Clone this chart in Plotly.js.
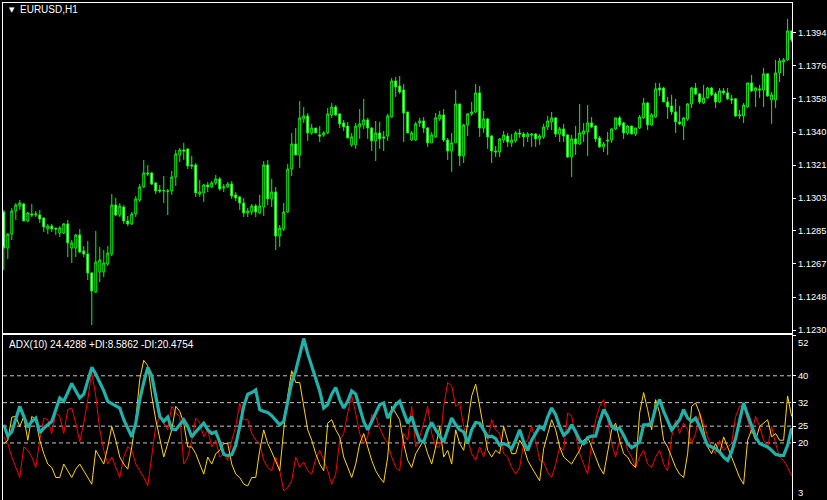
<!DOCTYPE html>
<html>
<head>
<meta charset="utf-8">
<script src="https://cdn.plot.ly/plotly-3.0.1.min.js"></script>
<style>html,body{margin:0;padding:0;background:#000;}#chart{width:827px;height:500px;}</style>
</head>
<body>
<div id="chart"></div>
<script>
// EURUSD H1 candles
const opens = [1.12952,1.12753,1.12830,1.12957,1.12985,1.12996,1.12902,1.12941,1.12935,1.12935,
1.12919,1.12858,1.12874,1.12863,1.12836,1.12836,1.12886,1.12753,1.12753,1.12825,
1.12736,1.12720,1.12615,1.12510,1.12621,1.12621,1.12665,1.12720,1.12990,1.12935,
1.12979,1.12902,1.12886,1.12941,1.13018,1.13090,1.13167,1.13167,1.13112,1.13073,
1.13068,1.13068,1.13068,1.13145,1.13266,1.13294,1.13300,1.13211,1.13211,1.13051,
1.13057,1.13101,1.13090,1.13112,1.13134,1.13084,1.13090,1.13106,1.13046,1.13035,
1.13001,1.12946,1.12952,1.12985,1.12946,1.12979,1.13211,1.13024,1.13062,1.12819,
1.12858,1.12952,1.13189,1.13327,1.13266,1.13465,1.13482,1.13388,1.13415,1.13377,
1.13377,1.13388,1.13487,1.13531,1.13493,1.13443,1.13426,1.13322,1.13322,1.13421,
1.13432,1.13460,1.13415,1.13344,1.13388,1.13366,1.13371,1.13476,1.13675,1.13647,
1.13625,1.13504,1.13349,1.13349,1.13443,1.13454,1.13415,1.13333,1.13366,1.13465,
1.13487,1.13349,1.13288,1.13333,1.13548,1.13261,1.13432,1.13493,1.13504,1.13609,
1.13415,1.13465,1.13371,1.13288,1.13283,1.13349,1.13371,1.13333,1.13344,1.13388,
1.13382,1.13366,1.13382,1.13382,1.13355,1.13366,1.13421,1.13449,1.13471,1.13382,
1.13410,1.13377,1.13255,1.13355,1.13327,1.13382,1.13393,1.13443,1.13426,1.13360,
1.13311,1.13349,1.13349,1.13410,1.13471,1.13443,1.13388,1.13426,1.13382,1.13415,
1.13471,1.13553,1.13432,1.13476,1.13636,1.13636,1.13559,1.13537,1.13504,1.13449,
1.13426,1.13465,1.13548,1.13636,1.13603,1.13553,1.13581,1.13636,1.13603,1.13559,
1.13620,1.13609,1.13576,1.13576,1.13482,1.13482,1.13531,1.13664,1.13620,1.13631,
1.13625,1.13714,1.13570,1.13570,1.13719,1.13780,1.13791,1.13951];
const highs = [1.12963,1.12836,1.12974,1.13001,1.13018,1.13001,1.12952,1.12996,1.12957,1.12963,
1.12919,1.12886,1.12886,1.12863,1.12874,1.12891,1.12908,1.12797,1.12830,1.12858,
1.12764,1.12792,1.12621,1.12847,1.12759,1.12742,1.12764,1.13051,1.13029,1.13001,
1.12990,1.12930,1.12952,1.13040,1.13106,1.13239,1.13211,1.13173,1.13117,1.13101,
1.13150,1.13079,1.13178,1.13294,1.13305,1.13333,1.13300,1.13261,1.13222,1.13128,
1.13106,1.13117,1.13123,1.13156,1.13145,1.13106,1.13117,1.13123,1.13062,1.13040,
1.13029,1.12974,1.12996,1.12996,1.13046,1.13233,1.13239,1.13134,1.13090,1.12880,
1.13001,1.13217,1.13388,1.13415,1.13564,1.13531,1.13498,1.13438,1.13415,1.13426,
1.13399,1.13526,1.13553,1.13542,1.13498,1.13460,1.13449,1.13388,1.13443,1.13520,
1.13576,1.13471,1.13421,1.13454,1.13449,1.13399,1.13493,1.13691,1.13697,1.13702,
1.13658,1.13504,1.13399,1.13449,1.13471,1.13476,1.13421,1.13393,1.13498,1.13509,
1.13520,1.13360,1.13388,1.13625,1.13548,1.13438,1.13498,1.13559,1.13658,1.13647,
1.13509,1.13471,1.13377,1.13316,1.13360,1.13399,1.13388,1.13382,1.13399,1.13410,
1.13393,1.13393,1.13388,1.13388,1.13382,1.13438,1.13482,1.13504,1.13476,1.13421,
1.13438,1.13382,1.13377,1.13426,1.13548,1.13443,1.13542,1.13476,1.13432,1.13371,
1.13338,1.13393,1.13415,1.13471,1.13482,1.13449,1.13432,1.13426,1.13415,1.13487,
1.13581,1.13559,1.13498,1.13664,1.13664,1.13642,1.13587,1.13598,1.13576,1.13537,
1.13476,1.13553,1.13642,1.13664,1.13609,1.13653,1.13642,1.13642,1.13614,1.13636,
1.13636,1.13636,1.13598,1.13581,1.13515,1.13553,1.13664,1.13708,1.13642,1.13653,
1.13747,1.13714,1.13614,1.13791,1.13802,1.13802,1.14017,1.13951];
const lows = [1.12632,1.12692,1.12797,1.12908,1.12963,1.12902,1.12897,1.12924,1.12924,1.12891,
1.12841,1.12830,1.12841,1.12825,1.12814,1.12830,1.12703,1.12670,1.12703,1.12725,
1.12703,1.12576,1.12328,1.12505,1.12565,1.12593,1.12654,1.12709,1.12930,1.12924,
1.12886,1.12874,1.12880,1.12924,1.13007,1.13084,1.13150,1.13101,1.13051,1.13057,
1.13001,1.12935,1.13046,1.13095,1.13228,1.13239,1.13189,1.13189,1.13035,1.13035,
1.13007,1.13062,1.13084,1.13101,1.13068,1.13062,1.13084,1.13024,1.13012,1.12963,
1.12924,1.12924,1.12935,1.12924,1.12941,1.12930,1.12990,1.12979,1.12742,1.12759,
1.12847,1.12946,1.13150,1.13266,1.13195,1.13443,1.13344,1.13377,1.13388,1.13338,
1.13366,1.13382,1.13471,1.13482,1.13415,1.13399,1.13360,1.13311,1.13300,1.13355,
1.13410,1.13355,1.13288,1.13233,1.13300,1.13288,1.13344,1.13471,1.13587,1.13603,
1.13338,1.13388,1.13344,1.13344,1.13421,1.13388,1.13311,1.13333,1.13360,1.13454,
1.13338,1.13239,1.13173,1.13333,1.13206,1.13222,1.13371,1.13482,1.13498,1.13366,
1.13388,1.13300,1.13222,1.13255,1.13255,1.13333,1.13311,1.13311,1.13333,1.13360,
1.13311,1.13338,1.13311,1.13311,1.13322,1.13355,1.13404,1.13404,1.13366,1.13338,
1.13338,1.13250,1.13145,1.13266,1.13322,1.13338,1.13261,1.13415,1.13338,1.13305,
1.13283,1.13266,1.13333,1.13404,1.13421,1.13355,1.13377,1.13382,1.13371,1.13410,
1.13465,1.13404,1.13426,1.13471,1.13592,1.13559,1.13465,1.13487,1.13388,1.13432,
1.13349,1.13454,1.13526,1.13598,1.13548,1.13548,1.13576,1.13592,1.13526,1.13553,
1.13598,1.13570,1.13548,1.13476,1.13465,1.13443,1.13526,1.13614,1.13531,1.13581,
1.13531,1.13587,1.13438,1.13526,1.13669,1.13702,1.13785,1.13890];
const closes = [1.12753,1.12830,1.12957,1.12990,1.13001,1.12902,1.12946,1.12935,1.12941,1.12913,
1.12869,1.12874,1.12858,1.12858,1.12863,1.12886,1.12781,1.12781,1.12825,1.12731,
1.12720,1.12615,1.12516,1.12676,1.12687,1.12670,1.12725,1.12990,1.12935,1.12985,
1.12902,1.12886,1.12941,1.13024,1.13090,1.13167,1.13162,1.13106,1.13068,1.13068,
1.13070,1.13066,1.13145,1.13272,1.13294,1.13288,1.13206,1.13206,1.13057,1.13062,
1.13101,1.13090,1.13112,1.13134,1.13079,1.13090,1.13106,1.13040,1.13029,1.13001,
1.12946,1.12957,1.12985,1.12952,1.12985,1.13211,1.13024,1.13062,1.12819,1.12863,
1.12952,1.13189,1.13327,1.13266,1.13471,1.13482,1.13388,1.13415,1.13388,1.13371,
1.13388,1.13493,1.13531,1.13487,1.13438,1.13421,1.13360,1.13366,1.13426,1.13438,
1.13460,1.13415,1.13344,1.13388,1.13355,1.13360,1.13482,1.13675,1.13642,1.13614,
1.13498,1.13388,1.13388,1.13438,1.13454,1.13415,1.13333,1.13377,1.13471,1.13487,
1.13349,1.13288,1.13333,1.13548,1.13261,1.13432,1.13493,1.13504,1.13609,1.13415,
1.13465,1.13366,1.13288,1.13283,1.13355,1.13377,1.13338,1.13349,1.13388,1.13382,
1.13366,1.13382,1.13377,1.13355,1.13371,1.13421,1.13454,1.13471,1.13382,1.13410,
1.13371,1.13255,1.13355,1.13327,1.13388,1.13399,1.13443,1.13421,1.13355,1.13311,
1.13327,1.13344,1.13410,1.13471,1.13432,1.13388,1.13426,1.13382,1.13415,1.13476,
1.13553,1.13432,1.13487,1.13631,1.13625,1.13559,1.13531,1.13504,1.13449,1.13438,
1.13471,1.13548,1.13636,1.13603,1.13559,1.13581,1.13636,1.13598,1.13559,1.13620,
1.13609,1.13576,1.13570,1.13482,1.13487,1.13542,1.13664,1.13620,1.13636,1.13625,
1.13714,1.13592,1.13598,1.13719,1.13785,1.13791,1.13951,1.13901];

// ADX(10) indicator
const adx = [25.4,22.0,23.3,27.4,30.9,27.9,24.7,26.4,27.4,23.0,
24.4,25.4,26.4,29.9,33.4,32.4,35.0,37.7,35.5,33.4,
34.5,38.5,42.5,40.5,38.0,35.5,32.4,31.7,31.1,30.4,
26.9,24.4,21.8,25.9,32.9,38.0,42.5,40.0,33.4,27.9,
26.4,27.7,24.1,23.9,25.4,26.9,24.9,21.8,23.3,24.7,
25.9,23.9,22.8,23.3,20.3,16.6,16.2,16.5,19.3,24.9,
30.9,34.5,35.0,35.8,29.9,29.4,29.1,28.1,26.7,25.4,
26.4,32.4,38.0,41.5,46.6,51.1,46.6,43.0,39.5,35.5,
30.4,31.4,34.5,36.5,32.9,30.4,32.4,35.5,34.5,30.4,
26.4,23.9,26.4,29.4,31.4,31.9,27.4,29.4,31.4,32.4,
29.4,25.9,27.9,23.9,20.8,20.3,23.9,26.1,23.9,22.0,
20.3,23.9,27.4,25.4,23.9,23.3,19.8,23.9,26.1,25.9,
23.9,21.8,22.0,21.3,19.3,19.8,19.3,18.3,20.8,23.9,
20.3,17.8,20.8,22.8,24.9,24.1,27.7,30.4,28.4,24.9,
22.3,23.3,25.4,23.3,20.8,19.8,21.6,22.0,22.0,26.4,
29.9,27.9,24.9,24.1,24.4,22.3,19.8,18.6,19.3,20.3,
25.4,25.4,25.9,30.4,32.9,29.4,26.4,23.9,25.4,26.9,
29.9,27.4,26.4,27.4,24.9,21.8,19.3,18.8,18.3,17.3,
15.8,14.8,17.3,21.3,26.9,31.9,28.4,25.4,21.8,19.8,
19.3,18.8,17.8,16.6,16.3,16.3,19.3,24.4];
const plusDI = [19.8,20.8,27.7,27.9,24.9,27.9,20.8,27.9,26.9,20.8,
16.8,13.7,12.7,9.7,9.7,13.7,11.7,9.7,12.2,13.7,
11.7,9.7,7.7,17.8,15.8,13.7,18.8,24.9,20.8,15.8,
13.7,12.2,18.8,26.9,39.0,44.6,43.0,34.0,26.9,20.8,
15.8,19.8,23.9,30.9,29.4,25.9,18.8,18.8,16.8,13.7,
10.7,15.8,13.7,16.8,17.8,19.8,19.8,13.7,10.7,9.7,
7.7,7.2,9.7,9.7,17.8,23.9,19.8,17.3,14.3,11.7,
23.9,34.0,41.5,38.0,38.0,30.9,23.9,20.8,16.8,13.7,
11.7,25.9,26.9,23.9,21.8,15.8,12.7,9.7,13.7,19.8,
22.8,18.8,14.8,11.7,9.7,8.2,15.8,30.9,28.9,26.9,
19.8,14.8,12.7,16.8,18.8,20.8,16.8,13.7,18.8,24.9,
15.8,17.8,13.7,23.9,19.8,17.8,25.9,34.0,37.5,30.9,
23.9,17.8,15.8,17.8,16.8,24.9,20.8,16.8,16.8,20.8,
18.8,14.8,12.7,10.7,8.7,18.3,22.8,26.9,23.9,18.8,
15.8,14.8,13.7,15.8,17.8,20.8,21.8,18.8,15.8,12.7,
10.7,17.8,23.9,25.9,20.8,16.8,15.8,13.7,12.7,28.9,
35.0,29.9,23.9,32.9,28.9,20.8,18.8,15.8,12.7,10.7,
9.7,16.8,30.9,31.9,28.9,23.9,18.8,16.8,19.8,16.8,
21.8,18.8,15.8,12.7,9.7,7.7,20.8,23.9,20.8,24.9,
25.9,26.9,21.8,22.8,20.8,20.8,34.0,27.9];
const minusDI = [21.8,19.8,15.8,12.7,9.7,18.8,17.8,15.8,12.7,20.8,
27.4,26.9,22.8,28.9,27.9,22.8,29.9,30.4,25.9,20.3,
25.9,32.9,41.0,34.0,23.9,17.8,13.7,15.8,12.7,9.7,
15.8,18.8,17.8,13.7,11.7,9.7,7.2,15.8,24.9,27.9,
25.9,23.9,30.9,28.9,27.9,13.7,15.8,20.8,27.4,25.9,
21.8,23.9,18.8,20.8,15.8,16.8,14.8,20.8,24.9,31.9,
26.9,26.9,22.8,20.8,19.8,14.8,12.7,11.7,15.8,11.7,
5.7,6.7,8.7,15.8,12.7,14.3,11.7,10.7,15.3,17.8,
14.8,11.7,7.7,10.7,20.8,22.8,28.9,34.0,28.9,22.8,
19.8,21.8,28.4,27.9,24.4,21.8,19.8,15.8,12.7,11.7,
22.8,20.8,30.9,18.8,21.8,25.9,30.9,22.8,18.8,18.8,
30.9,38.0,37.0,30.9,31.9,24.9,20.8,16.8,14.8,18.8,
15.8,20.8,26.9,23.9,22.8,16.8,15.8,12.7,10.7,12.7,
19.8,20.8,24.9,20.8,14.8,14.3,11.2,9.7,13.7,18.8,
17.8,28.9,27.9,21.8,16.8,13.7,10.7,19.8,26.9,30.9,
32.9,26.9,19.8,15.8,20.8,22.8,17.8,15.8,12.7,15.8,
17.8,13.7,12.7,15.8,17.8,13.7,11.7,21.8,26.9,22.8,
25.9,23.9,19.8,22.8,28.9,25.9,21.8,18.8,16.8,20.8,
17.8,18.8,19.8,27.9,30.9,30.9,26.9,22.8,27.9,24.9,
20.8,18.8,24.9,19.8,15.8,14.8,12.7,10.2];

const priceTickVals = [1.12300,1.12482,1.12665,1.12847,1.13029,1.13211,1.13393,1.13576,1.13758,1.13940];
const priceTickText = ['1.1230','1.1248','1.1267','1.1285','1.1303','1.1321','1.1340','1.1358','1.1376','1.1394'];
const adxLevels = [20, 25, 32, 40];
const adxTickVals = [52, 40, 32, 25, 20, 3];
const adxTickText = ['', '40', '32', '25', '20', ''];
const symbolTitle = 'EURUSD,H1';
const adxTitle = 'ADX(10) 24.4288 +DI:8.5862 -DI:20.4754';

const bars = opens.map((_, i) => i);
const FONT = 'Liberation Sans, Arial, sans-serif';
const WHITE = '#ffffff';
const LIME = '#00ff00';

const traces = [
  {
    type: 'candlestick', x: bars, open: opens, high: highs, low: lows, close: closes,
    xaxis: 'x', yaxis: 'y',
    increasing: {line: {color: LIME, width: 1}, fillcolor: '#000000'},
    decreasing: {line: {color: LIME, width: 1}, fillcolor: '#ffffff'},
    whiskerwidth: 0, hoverinfo: 'skip', showlegend: false
  },
  {type: 'scatter', mode: 'lines', x: bars, y: minusDI, xaxis: 'x2', yaxis: 'y2',
   line: {color: '#ff0000', width: 1}, hoverinfo: 'skip', showlegend: false},
  {type: 'scatter', mode: 'lines', x: bars, y: plusDI, xaxis: 'x2', yaxis: 'y2',
   line: {color: '#ffd700', width: 1}, hoverinfo: 'skip', showlegend: false},
  {type: 'scatter', mode: 'lines', x: bars, y: adx, xaxis: 'x2', yaxis: 'y2',
   line: {color: '#20b2aa', width: 3.2}, hoverinfo: 'skip', showlegend: false}
];

const xRange = [-0.2, 197.1];
const axisCommon = {
  showline: true, mirror: true, linecolor: WHITE, linewidth: 1,
  showgrid: false, zeroline: false, fixedrange: true
};
const tickFont = {family: FONT, size: 9.4, color: WHITE};

const layout = {
  width: 827, height: 500,
  paper_bgcolor: '#000000', plot_bgcolor: '#000000',
  margin: {l: 3, r: 35, t: 3, b: 0},
  showlegend: false,
  xaxis: Object.assign({}, axisCommon, {
    domain: [0, 1], anchor: 'y', range: xRange, showticklabels: false, ticks: '',
    rangeslider: {visible: false}
  }),
  yaxis: Object.assign({}, axisCommon, {
    domain: [0.336, 1], anchor: 'x', side: 'right', range: [1.12284, 1.14105],
    tickmode: 'array', tickvals: priceTickVals, ticktext: priceTickText,
    ticks: 'outside', ticklen: 3, tickcolor: WHITE, tickwidth: 1,
    tickfont: tickFont
  }),
  xaxis2: Object.assign({}, axisCommon, {
    domain: [0, 1], anchor: 'y2', range: xRange, showticklabels: false, ticks: ''
  }),
  yaxis2: Object.assign({}, axisCommon, {
    domain: [0, 0.331], anchor: 'x2', side: 'right', range: [3, 52],
    tickmode: 'array', tickvals: adxTickVals, ticktext: adxTickText,
    ticks: 'outside', ticklen: 3, tickcolor: WHITE, tickwidth: 1,
    tickfont: tickFont
  }),
  shapes: adxLevels.map(v => ({
    type: 'line', xref: 'paper', yref: 'y2', x0: 0, x1: 1, y0: v, y1: v,
    line: {color: '#c8c8c8', width: 1, dash: '4px,3px'}, layer: 'below'
  })),
  annotations: [
    {xref: 'paper', yref: 'paper', x: 0.0055, y: 0.986, xanchor: 'left', yanchor: 'middle',
     text: '▼', showarrow: false, font: {family: 'DejaVu Sans', size: 7, color: WHITE}},
    {xref: 'paper', yref: 'paper', x: 0.0192, y: 0.986, xanchor: 'left', yanchor: 'middle',
     text: symbolTitle, showarrow: false, font: {family: FONT, size: 10, color: WHITE}},
    {xref: 'paper', yref: 'paper', x: 0.0055, y: 0.312, xanchor: 'left', yanchor: 'middle',
     text: adxTitle, showarrow: false, font: {family: FONT, size: 10, color: WHITE}},
    {xref: 'paper', yref: 'y2', x: 1, y: 52, xanchor: 'left', yanchor: 'top', xshift: 4,
     text: '52', showarrow: false, font: tickFont},
    {xref: 'paper', yref: 'y2', x: 1, y: 3, xanchor: 'left', yanchor: 'bottom', xshift: 4,
     text: '3', showarrow: false, font: tickFont}
  ]
};

Plotly.newPlot('chart', traces, layout, {staticPlot: true, displayModeBar: false});
</script>
</body>
</html>
